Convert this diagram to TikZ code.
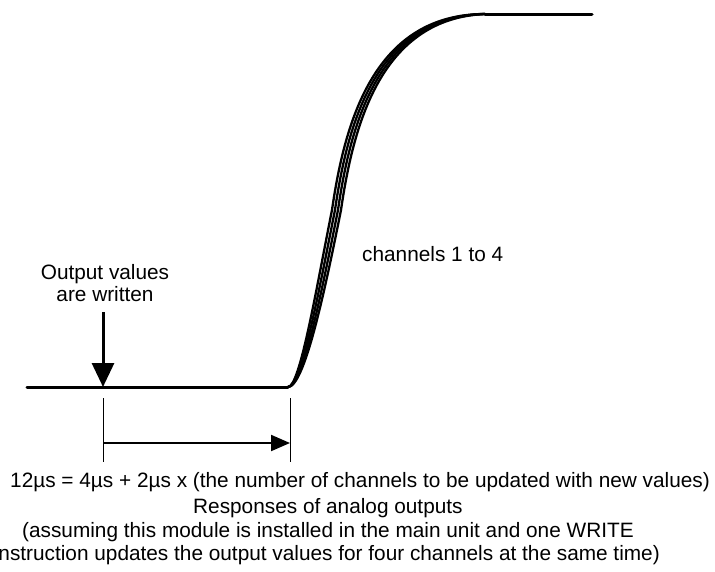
\documentclass[tikz,border=0pt]{standalone}
\usepackage{fontspec}
\setmainfont{Liberation Sans}
\usetikzlibrary{arrows.meta}
\begin{document}
\begin{tikzpicture}[x=1pt,y=-1pt,
  lbl/.style={inner sep=0pt, font=\fontsize{20.8}{23}\selectfont},
  trace/.style={line width=2.3pt, line cap=round},
  level/.style={line width=3pt, line cap=round},
  tick/.style={line width=0.8pt},
  writearrow/.style={line width=3pt, -{Triangle[width=22pt,length=24pt]}},
  delayarrow/.style={line width=2pt, -{Triangle[width=16pt,length=19pt]}}]
\useasboundingbox (0,0) rectangle (715,571);
\clip (0,0) rectangle (715,571);

% key points of the signal
\coordinate (lo) at (27,387);
\coordinate (start) at (288,387);
\coordinate (hi) at (485,14);
\coordinate (hiend) at (592,14);
\coordinate (wr) at (103,387);
\coordinate (wrtop) at (103,312);

% output level before the change
\draw[level] (lo) -- (start);

% responses of the four channels
\foreach \d in {0,3,6,9}{
  \draw[trace] (start) .. controls (300+0.5*\d,387) and (316+\d,290) .. (332+\d,210)
                      .. controls (345+\d,120) and (375+0.9*\d,14+0.5*\d) .. (hi);
}
\draw[level] (hi) -- (hiend);

% moment the output values are written
\draw[writearrow] (wrtop) -- (wr);
\node[lbl, anchor=base] (wrtxt1) at (105,279) {Output values};
\node[lbl, anchor=base] (wrtxt2) at (105,301) {are written};

\node[lbl, anchor=base west] (ch) at (362,261) {channels 1 to 4};

% delay dimension
\coordinate (ta) at (103,398);
\coordinate (tab) at (103,462);
\coordinate (tb) at (290,398);
\coordinate (tbb) at (290,462);
\draw[tick] (ta) -- (tab);
\draw[tick] (tb) -- (tbb);
\coordinate (da) at (103,443);
\coordinate (db) at (290,443);
\draw[delayarrow] (da) -- (db);

% caption
\node[lbl, anchor=base west] (eq) at (10,487) {12µs = 4µs + 2µs x (the number of channels to be updated with new values)};
\node[lbl, anchor=base west] (cap1) at (193,513) {Responses of analog outputs};
\node[lbl, anchor=base west] (cap2) at (22,537) {(assuming this module is installed in the main unit and one WRITE};
\node[lbl, anchor=base east] (cap3) at (660,560) {instruction updates the output values for four channels at the same time)};
\end{tikzpicture}
\end{document}
